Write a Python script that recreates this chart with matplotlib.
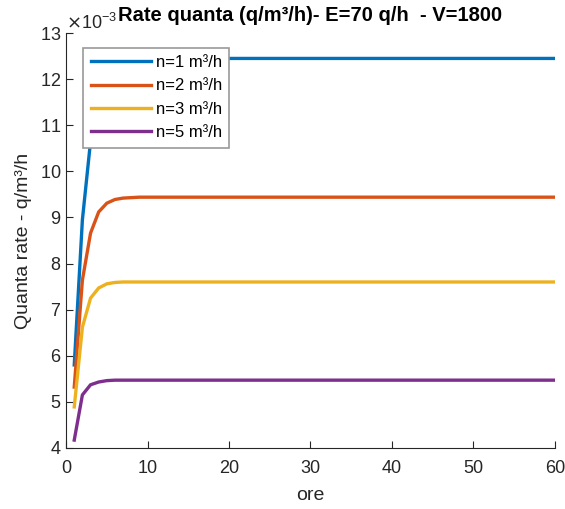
import matplotlib.pyplot as plt
from matplotlib.ticker import ScalarFormatter

plt.rcParams['font.family'] = ['Liberation Sans', 'DejaVu Sans']

hours = list(range(1, 61))

# quanta rate per air change rate, x1e-3 q/m3/h
n1 = [5.80, 8.95, 10.65, 11.60, 12.05, 12.28, 12.38, 12.43] + [12.45] * 52
n2 = [5.32, 7.64, 8.66, 9.12, 9.31, 9.39, 9.42, 9.43] + [9.44] * 52
n3 = [4.89, 6.62, 7.25, 7.47, 7.56, 7.59] + [7.60] * 54
n5 = [4.17, 5.15, 5.37, 5.43, 5.46] + [5.47] * 55

labels = ['n=1 m³/h', 'n=2 m³/h', 'n=3 m³/h', 'n=5 m³/h']
colors = ['#0072BD', '#D95319', '#EDB120', '#7E2F8E']

fig = plt.figure(figsize=(5.65, 5.09), dpi=100)
ax = fig.add_axes([0.117, 0.12, 0.865, 0.815])

for series, lab, col in zip([n1, n2, n3, n5], labels, colors):
    ax.plot(hours, [v * 1e-3 for v in series], color=col, lw=2.4, label=lab)

ax.set_xlim(0, 60)
ax.set_ylim(4e-3, 13e-3)
ax.set_xticks(range(0, 61, 10))
ax.set_yticks([v * 1e-3 for v in range(4, 14)])

fmt = ScalarFormatter(useMathText=True)
fmt.set_powerlimits((-3, -3))
ax.yaxis.set_major_formatter(fmt)
ax.yaxis.get_offset_text().set_fontsize(13)
ax.yaxis.get_offset_text().set_color('#262626')

for side in ['top', 'right']:
    ax.spines[side].set_visible(False)
for side in ['left', 'bottom']:
    ax.spines[side].set_color('#262626')
ax.tick_params(direction='in', length=5, labelsize=13, colors='#262626')
ax.tick_params(axis='x', pad=9)

ax.set_xlabel('ore', fontsize=14, color='#262626', labelpad=7)
ax.set_ylabel('Quanta rate - q/m³/h', fontsize=14, color='#262626', labelpad=6)
ax.set_title('Rate quanta (q/m³/h)- E=70 q/h  - V=1800', fontsize=14.5,
             fontweight='bold', pad=9)

leg = ax.legend(loc='upper left', bbox_to_anchor=(0.035, 0.965), fontsize=12,
                fancybox=False, edgecolor='#999999', handlelength=3.6,
                borderaxespad=0, labelspacing=0.5, borderpad=0.45,
                handletextpad=0.3, framealpha=1)
leg.get_frame().set_linewidth(1.2)

fig.savefig('out.png', dpi=100)
